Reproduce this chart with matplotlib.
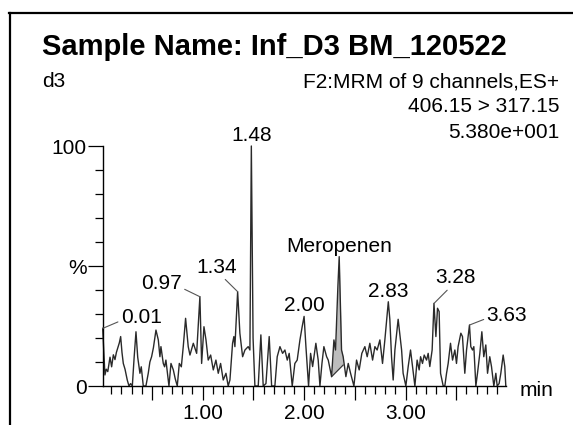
import numpy as np
import matplotlib
matplotlib.use("Agg")
import matplotlib.pyplot as plt
from matplotlib.lines import Line2D
from matplotlib.ticker import MultipleLocator, FixedLocator, FuncFormatter

#--------data begin--------
# retention time (min) and relative intensity (%)
rt = [0.015, 0.037, 0.05, 0.065, 0.087, 0.103, 0.12, 0.136, 0.15, 0.179,
      0.192, 0.205, 0.218, 0.235, 0.257, 0.274, 0.29, 0.307, 0.325, 0.343,
      0.36, 0.382, 0.395, 0.415, 0.441, 0.464, 0.48, 0.497, 0.515, 0.54,
      0.563, 0.579, 0.589, 0.612, 0.625, 0.638, 0.668, 0.688, 0.711, 0.73,
      0.75, 0.77, 0.79, 0.809, 0.832, 0.858, 0.875, 0.908, 0.941, 0.973,
      0.99, 1.013, 1.033, 1.055, 1.079, 1.105, 1.131, 1.154, 1.177, 1.203,
      1.23, 1.252, 1.269, 1.295, 1.308, 1.318, 1.345, 1.367, 1.394, 1.417,
      1.449, 1.466, 1.48, 1.497, 1.515, 1.548, 1.574, 1.597, 1.624, 1.656,
      1.68, 1.712, 1.735, 1.762, 1.788, 1.811, 1.834, 1.853, 1.883, 1.909,
      1.932, 1.959, 1.981, 2.0, 2.018, 2.044, 2.064, 2.084, 2.116, 2.139,
      2.156, 2.176, 2.195, 2.222, 2.238, 2.271, 2.294, 2.31, 2.333, 2.346,
      2.369, 2.385, 2.412, 2.435, 2.458, 2.491, 2.517, 2.543, 2.569, 2.599,
      2.622, 2.648, 2.675, 2.698, 2.72, 2.747, 2.773, 2.796, 2.83, 2.845,
      2.862, 2.878, 2.895, 2.927, 2.961, 2.976, 3.003, 3.026, 3.049, 3.069,
      3.092, 3.114, 3.134, 3.148, 3.167, 3.184, 3.207, 3.223, 3.239, 3.262,
      3.28, 3.299, 3.315, 3.331, 3.345, 3.371, 3.387, 3.404, 3.42, 3.443,
      3.463, 3.486, 3.502, 3.518, 3.545, 3.561, 3.584, 3.601, 3.63, 3.643,
      3.66, 3.673, 3.693, 3.709, 3.732, 3.752, 3.771, 3.791, 3.808, 3.83,
      3.847, 3.87, 3.89, 3.903, 3.922, 3.939, 3.962, 3.978, 3.988]
intensity = [24, 4.6, 7, 6, 12, 8, 13, 11, 14, 18,
             20.6, 14, 9.4, 7, 2.5, 0, 1, 0, 12, 22.6,
             12, 5.3, 8, 0, 0, 5.3, 10, 12.2, 16, 23.3,
             19.2, 12.2, 16.4, 9.4, 8, 10.8, 0, 9.4, 6.7, 3,
             0, 9.4, 8, 16.4, 28.2, 16.4, 12.9, 17.8, 13.6, 37.2,
             9.4, 24.7, 19.2, 10.8, 12.9, 6.7, 10.8, 5.3, 9.4, 2.5,
             5.3, 0, 2.5, 17.8, 20.6, 16.4, 39.3, 22, 12.2, 15,
             16.4, 15, 100, 20, 0, 0, 21.3, 0, 1, 20.6,
             0, 0, 12.2, 16.4, 13.6, 15, 10.8, 13.6, 0, 9.4,
             10.8, 19.2, 24.7, 29, 16.4, 0, 13.6, 8.1, 17.8, 10.8,
             0, 9.4, 16.4, 12.2, 10.8, 3.9, 19.2, 15, 41.4, 53.9,
             15, 12.2, 3.9, 9.4, 5.3, 0, 10.8, 6.7, 13.6, 16.4,
             12.2, 17.8, 10.8, 16.4, 15, 19.2, 9.4, 19.2, 35.1, 27.8,
             12, 2.5, 15, 27.8, 15, 5.3, 0, 8.1, 15, 8.1,
             0, 10.8, 6.7, 12.2, 9.4, 12.9, 10.8, 13.6, 8.1, 15,
             34.4, 20.6, 32.4, 31, 5.3, 0, 0, 5.3, 9.4, 17.8,
             10.8, 15, 9.4, 16.4, 22, 20.6, 5.3, 15, 25.4, 16.4,
             15, 16.4, 0, 5.3, 13.6, 22.6, 12.2, 17.1, 5.3, 12.2,
             8.1, 0, 5.3, 0, 1, 5.3, 12.9, 8.1, 0]

# labelled peaks
peak_labels = ["0.01", "0.97", "1.34", "1.48", "2.00", "Meropenen", "2.83", "3.28", "3.63"]
peak_times = [0.015, 0.973, 1.345, 1.48, 2.0, 2.346, 2.83, 3.28, 3.63]

# integrated peak (Meropenem) start/end and baseline
integ_start, integ_end = 2.271, 2.385
base_start, base_end = 3.9, 8.75

title = "Sample Name: Inf_D3 BM_120522"
trace_name = "d3"
info_lines = ["F2:MRM of 9 channels,ES+", "406.15 > 317.15", "5.380e+001"]
#--------data end--------

plt.rcParams["font.family"] = ["Liberation Sans", "DejaVu Sans"]

W, H = 573, 425
fig = plt.figure(figsize=(W / 100, H / 100), dpi=100)
ax = fig.add_axes([102.7 / W, 1 - 386 / H, 403.3 / W, 240 / H])

rt = np.array(rt)
intensity = np.array(intensity)

# Meropenem integration fill
m = (rt >= integ_start) & (rt <= integ_end)
base = np.interp(rt[m], [integ_start, integ_end], [base_start, base_end])
ax.fill_between(rt[m], base, intensity[m], color="#bdbdbd", lw=0)
ax.plot([integ_start, integ_end], [base_start, base_end], color="#333333", lw=0.8)

ax.plot(rt, intensity, color="#2a2a2a", lw=1.0, clip_on=False)

ax.set_xlim(0.015, 3.99)
ax.set_ylim(0, 100)

for s in ["top", "right"]:
    ax.spines[s].set_visible(False)
for s in ["left", "bottom"]:
    ax.spines[s].set_linewidth(1.0)

ax.xaxis.set_major_locator(MultipleLocator(0.5))
ax.xaxis.set_minor_locator(MultipleLocator(0.1))
ax.xaxis.set_major_formatter(FuncFormatter(lambda v, p: "%.2f" % v if abs(v - round(v)) < 1e-6 else ""))
ax.yaxis.set_major_locator(FixedLocator([0, 50, 100]))
ax.yaxis.set_minor_locator(MultipleLocator(10))
ax.set_yticklabels(["0", "%", "100"])

ax.tick_params(axis="x", which="major", length=10, width=0.9, labelsize=15, pad=3, direction="out")
ax.tick_params(axis="x", which="minor", length=5.5, width=0.9, direction="out")
ax.tick_params(axis="y", which="major", length=11, width=0.9, labelsize=15, pad=0.5, direction="out")
ax.tick_params(axis="y", which="minor", length=5.5, width=0.9, direction="out")

# peak annotations: (dx, dy) offset in pixels, alignment, leader relpos
label_style = {
    "0.01": ((18, 5), "left", (0, 0.35), True),
    "0.97": ((-18, 8), "right", (1, 0.25), True),
    "1.34": ((-1, 19), "right", (0.65, 0), True),
    "1.48": ((0, 5), "center", None, False),
    "2.00": ((0, 5), "center", None, False),
    "Meropenen": ((0, 5), "center", None, False),
    "2.83": ((0, 5), "center", None, False),
    "3.28": ((1, 20), "left", (0.37, 0), True),
    "3.63": ((17, 4), "left", (0, 0.35), True),
}
for lab, t in zip(peak_labels, peak_times):
    v = intensity[np.argmin(np.abs(rt - t))]
    off, ha, rel, leader = label_style[lab]
    kw = {}
    if leader:
        kw["arrowprops"] = dict(arrowstyle="-", color="#555555", lw=0.8,
                                shrinkA=0, shrinkB=0, relpos=rel)
    ax.annotate(lab, xy=(t, v), xytext=off, textcoords="offset pixels",
                ha=ha, va="baseline", fontsize=15, annotation_clip=False, **kw)

# header text
fig.text(42 / W, 1 - 55 / H, title, fontsize=21, fontweight="bold", va="baseline")
fig.text(42 / W, 1 - 87 / H, trace_name, fontsize=15, va="baseline")
for i, line in enumerate(info_lines):
    fig.text(559 / W, 1 - (87 + 25.5 * i) / H, line, fontsize=15, ha="right", va="baseline")
fig.text(520 / W, 1 - 396.5 / H, "min", fontsize=15, va="baseline")

# frame lines
fig.add_artist(Line2D([9 / W, 1], [1 - 12.7 / H] * 2, transform=fig.transFigure, color="black", lw=1.6))
fig.add_artist(Line2D([10 / W] * 2, [0, 1 - 12.7 / H], transform=fig.transFigure, color="black", lw=1.6))

fig.savefig("out.png", dpi=100)
